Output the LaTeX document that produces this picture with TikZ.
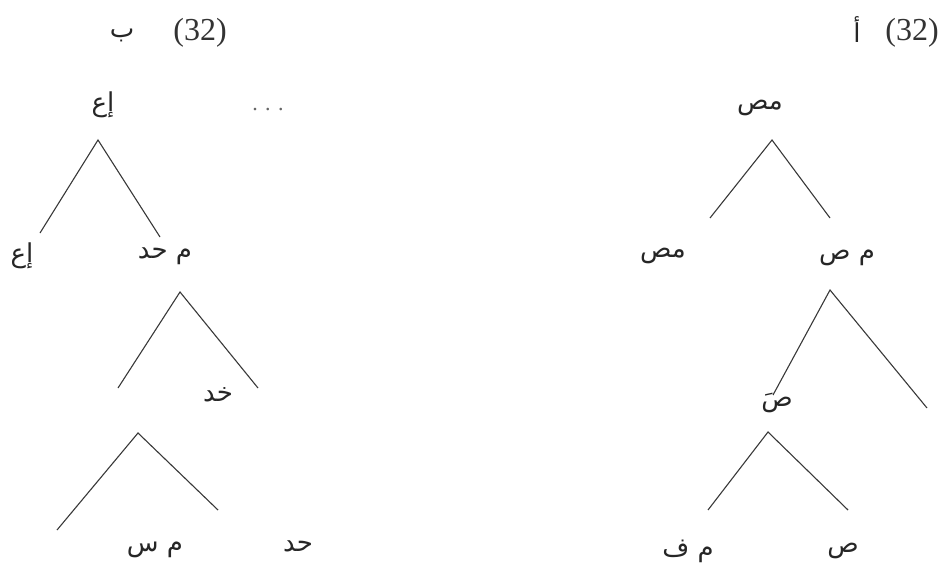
\documentclass[tikz,border=0pt]{standalone}
\usepackage{fontspec}
\setmainfont{Liberation Serif}
\newfontfamily\arabicfont[Script=Arabic]{DejaVu Sans}
\TeXXeTstate=1
\begin{document}
\begin{tikzpicture}[x=1pt,y=-1pt,
  branch/.style={draw=black!78, line width=1.1pt},
  lab/.style={inner sep=0pt, text=black!85, font=\arabicfont\fontsize{26}{30}\selectfont},
  num/.style={inner sep=0pt, text=black!80, font=\fontsize{32}{36}\selectfont}]
\useasboundingbox (0,0) rectangle (944,575);
% ---------- left tree (b) ----------
\node[num] (tnumL) at (200,33) {(32)};
\node[lab] (tbaL) at (122,35) {\beginR ب\endR};
\node[lab] (topL) at (103,105) {\beginR إع\endR};
\node[inner sep=0pt, text=black!60, font=\fontsize{22}{24}\selectfont] (dotsL) at (268,110) {. . .};
\coordinate (a1) at (98,140);
\coordinate (a1l) at (40,233);
\coordinate (a1r) at (160,237);
\node[lab] (ll1) at (22,256) {\beginR إع\endR};
\node[lab] (lr1) at (165,256) {\beginR م حد\endR};
\coordinate (a2) at (180,292);
\coordinate (a2l) at (118,388);
\coordinate (a2r) at (258,388);
\node[lab] (khd) at (218,395) {\beginR خد\endR};
\coordinate (a3) at (138,433);
\coordinate (a3l) at (57,530);
\coordinate (a3r) at (218,510);
\node[lab] (ms) at (155,550) {\beginR م س\endR};
\node[lab] (hd) at (298,546) {\beginR حد\endR};
\draw[branch] (a1l) -- (a1) -- (a1r);
\draw[branch] (a2l) -- (a2) -- (a2r);
\draw[branch] (a3l) -- (a3) -- (a3r);
% ---------- right tree (a) ----------
\node[num] (tnumR) at (912,33) {(32)};
\node[lab] (talR) at (857,30) {\beginR أ\endR};
\node[lab] (topR) at (760,108) {\beginR مص\endR};
\coordinate (b1) at (772,140);
\coordinate (b1l) at (710,218);
\coordinate (b1r) at (830,218);
\node[lab] (rl) at (663,256) {\beginR مص\endR};
\node[lab] (rr) at (847,258) {\beginR م ص\endR};
\coordinate (b2) at (830,290);
\coordinate (b2l) at (773,395);
\coordinate (b2r) at (927,408);
\node[lab] (sbar) at (777,403) {\beginR صَ\endR};
\coordinate (b3) at (768,432);
\coordinate (b3l) at (708,510);
\coordinate (b3r) at (848,510);
\node[lab] (mf) at (688,551) {\beginR م ف\endR};
\node[lab] (sad) at (843,551) {\beginR ص\endR};
\draw[branch] (b1l) -- (b1) -- (b1r);
\draw[branch] (b2l) -- (b2) -- (b2r);
\draw[branch] (b3l) -- (b3) -- (b3r);
\end{tikzpicture}
\end{document}
